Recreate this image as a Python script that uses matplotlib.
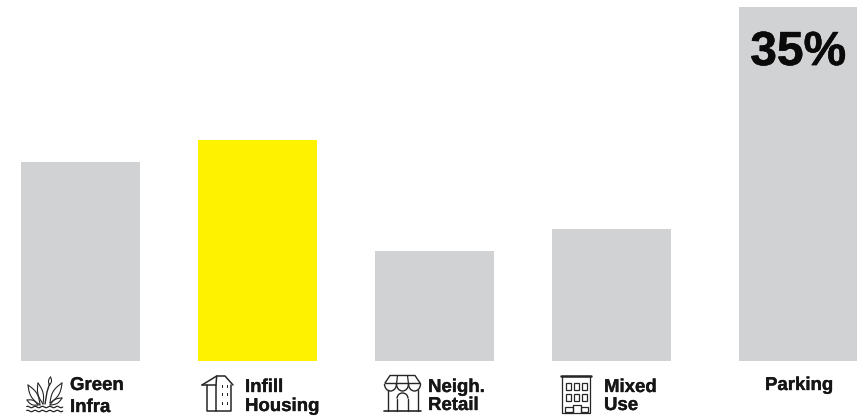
#!/usr/bin/env python3
# -*- coding: utf-8 -*-
import numpy as np
import matplotlib
matplotlib.use('Agg')
import matplotlib.pyplot as plt
import matplotlib.patheffects as pe
from matplotlib.patches import Arc, Rectangle

# dados
categorias = ['Green Infra', 'Infill Housing', 'Neigh. Retail', 'Mixed Use', 'Parking']
valores = [19.7, 21.85, 10.9, 13.1, 35.0]
rotulos = [['Green', 'Infra'], ['Infill', 'Housing'], ['Neigh.', 'Retail'], ['Mixed', 'Use'], ['Parking']]
destaque = 'Infill Housing'
rotulo_valor = '35%'

posicoes = [0, 1, 2, 3, 4.056]
W, H = 865, 416
CINZA = '#d1d2d4'
AMARELO = '#fff200'
TINTA = '#262626'
FONTE = 'Liberation Sans'

fig = plt.figure(figsize=(W / 100, H / 100), dpi=100, facecolor='white')

# eixo das barras: base em y=361px e 35 em y=7px
ax = fig.add_axes([0, (H - 361) / H, 1, (361 - 7) / H])
ax.set_ylim(0, 35)
ax.set_xlim((0 - 80.3) / 177, (W - 80.3) / 177)
cores = [AMARELO if c == destaque else CINZA for c in categorias]
ax.bar(posicoes, valores, width=118.5 / 177, color=cores)
ax.axis('off')
ax.text(posicoes[4], 29.26, rotulo_valor, ha='center', va='baseline',
        fontsize=34.5, fontweight='bold', family=FONTE, color='#0a0a0a',
        path_effects=[pe.withStroke(linewidth=0.4, foreground='#0a0a0a')])

# eixo em pixels para icones e rotulos
px = fig.add_axes([0, 0, 1, 1])
px.set_xlim(0, W)
px.set_ylim(H, 0)
px.axis('off')
px.patch.set_alpha(0)


def linha(xs, ys, lw=1.0, cor=TINTA):
    px.plot(xs, ys, color=cor, lw=lw, solid_capstyle='round', solid_joinstyle='round')


def folha(x0, y0, x1, y1, larg):
    # folha em forma de lente entre dois pontos
    t = np.linspace(0, 1, 30)
    dx, dy = x1 - x0, y1 - y0
    n = np.hypot(dx, dy)
    nx, ny = -dy / n, dx / n
    curva = np.sin(np.pi * t) * larg
    linha(x0 + dx * t + nx * curva, y0 + dy * t + ny * curva, 0.8)
    linha(x0 + dx * t - nx * curva, y0 + dy * t - ny * curva, 0.8)


def icone_planta():
    folha(40, 405, 28, 385, 3.2)
    folha(43, 404, 38, 383, 2.6)
    folha(50, 403, 62, 383, 3.2)
    folha(50, 405, 62, 398, 2.2)
    folha(38, 405, 27, 400, 2.2)
    # taboa central
    linha([45, 47, 49.5], [404, 392, 384], 1.0)
    folha(49.5, 385, 50.5, 377, 1.5)
    for y in [407, 411]:
        xs = np.linspace(26.7, 62.7, 60)
        linha(xs, y + 0.7 * np.sin(xs * 0.85), 0.9)


def icone_casa():
    linha([202, 216.7, 225, 233], [385, 376, 376, 385], 1.1)
    linha([202, 216, 216.7], [385, 385, 376], 1.1)
    linha([206.7, 206.7, 230.7, 230.7], [385, 411, 411, 385], 1.1)
    linha([216, 216], [385, 411], 1.1)
    for x in [222.7, 227.3]:
        for y in [385, 393, 402]:
            px.add_patch(Rectangle((x - 0.8, y), 1.6, 2.6, color=TINTA, lw=0))


def icone_loja():
    # toldo
    linha([385, 390, 415, 420], [383, 375.5, 375.5, 383], 1.0)
    linha([385, 420], [383, 383], 1.0)
    for a, b in [(384.5, 396.5), (396.5, 408.5), (408.5, 420.5)]:
        px.add_patch(Arc(((a + b) / 2, 384), b - a, 14, theta1=0, theta2=180, color=TINTA, lw=1.0))
    linha([396.5, 397.5], [384, 375.5], 0.9)
    linha([408.5, 407.5], [384, 375.5], 0.9)
    # paredes e porta
    linha([387.5, 387.5], [390, 411], 1.0)
    linha([417.5, 417.5], [390, 411], 1.0)
    linha([384, 421], [411, 411], 1.2)
    linha([397, 397], [398.5, 411], 1.0)
    linha([408, 408], [398.5, 411], 1.0)
    px.add_patch(Arc((402.5, 398.5), 11, 11, theta1=180, theta2=360, color=TINTA, lw=1.0))


def icone_predio():
    linha([561, 590.5], [375.5, 375.5], 1.8)
    px.add_patch(Rectangle((562, 376), 28, 37, fill=False, ec=TINTA, lw=0.9))
    for y in [383, 394]:
        for x in [566, 574, 581.7]:
            px.add_patch(Rectangle((x, y), 5, 6.5, fill=False, ec=TINTA, lw=0.9))
    px.add_patch(Rectangle((564.5, 406.5), 8, 5, fill=False, ec=TINTA, lw=0.9))
    px.add_patch(Rectangle((581, 406.5), 7, 5, fill=False, ec=TINTA, lw=0.9))
    linha([573, 573, 580.7, 580.7], [413, 405, 405, 413], 0.9)


icone_planta()
icone_casa()
icone_loja()
icone_predio()

# rotulos das categorias (x, linhas de base)
lugares = [(70, [390, 412]), (245, [392, 411]), (428, [392, 410]), (604, [392, 410]), (765, [390])]
for nomes, (x, bases) in zip(rotulos, lugares):
    for nome, y in zip(nomes, bases):
        px.text(x, y, nome, ha='left', va='baseline', fontsize=13.4,
                fontweight='bold', family=FONTE, color='#161616',
                path_effects=[pe.withStroke(linewidth=0.25, foreground='#161616')])

fig.savefig('out.png', dpi=100, facecolor='white')
